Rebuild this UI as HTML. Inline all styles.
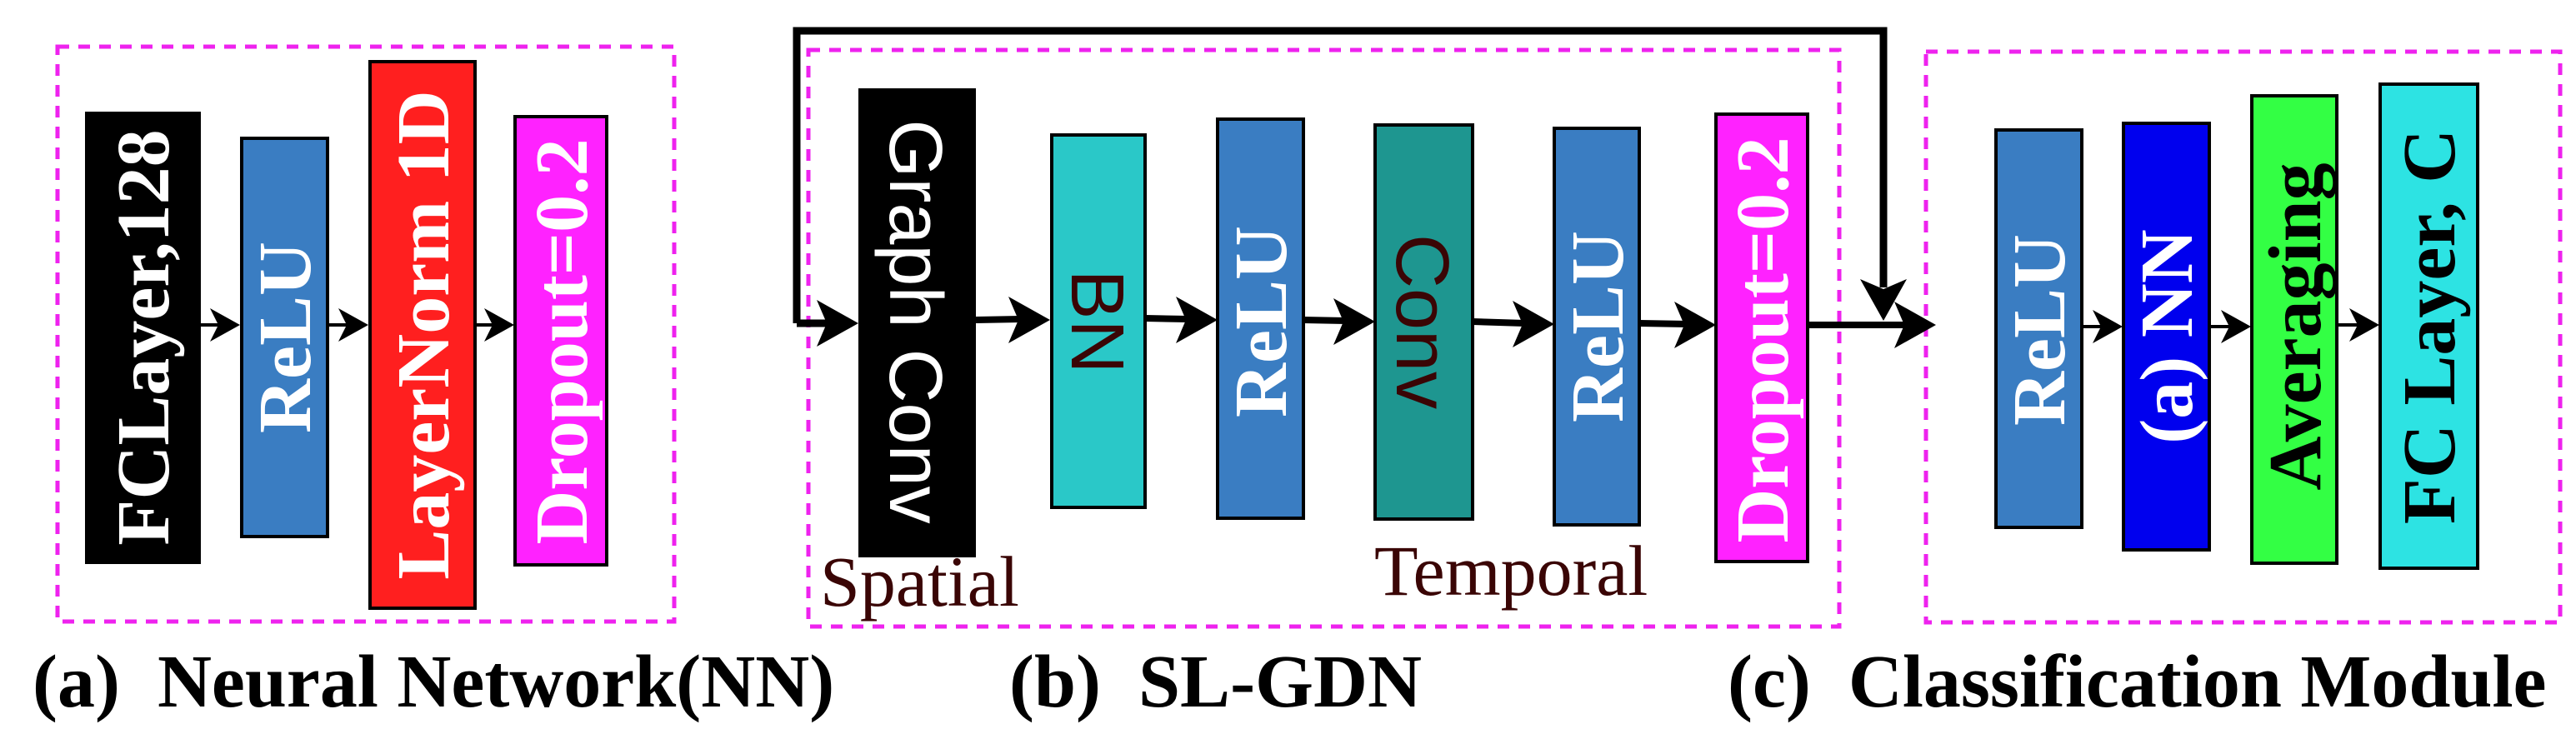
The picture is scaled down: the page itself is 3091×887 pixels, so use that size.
<!DOCTYPE html>
<html><head><meta charset="utf-8"><style>
html,body{margin:0;padding:0;background:#fff;}
svg{display:block;}
.sb{font-family:"Liberation Serif",serif;font-weight:bold;}
.ss{font-family:"Liberation Sans",sans-serif;}
.sr{font-family:"Liberation Serif",serif;}
</style></head><body>
<svg width="3091" height="887" viewBox="0 0 3091 887" xmlns="http://www.w3.org/2000/svg">
<defs>
<g id="hb"><polygon points="0,0 -50,-28 -38,0 -50,28" fill="#000"/></g>
<g id="hs"><polygon points="0,0 -36,-20 -26,0 -36,20" fill="#000"/></g>
</defs>
<!-- dashed boxes -->
<g fill="none" stroke="#ee22ee" stroke-width="5" stroke-dasharray="14,11">
<rect x="69" y="56" width="740" height="690"/>
<rect x="970" y="60" width="1237" height="692"/>
<rect x="2311" y="62" width="761" height="685"/>
</g>

<!-- Panel a -->
<rect x="102" y="134" width="139" height="543" fill="#000"/>
<rect x="290" y="166" width="103" height="478" fill="#3a7dc2" stroke="#000" stroke-width="4"/>
<rect x="444" y="74" width="126" height="656" fill="#ff1f1f" stroke="#000" stroke-width="4"/>
<rect x="618" y="140" width="110" height="538" fill="#ff22ff" stroke="#000" stroke-width="4"/>
<g class="sb" fill="#fff" font-size="90" text-anchor="middle">
<text transform="translate(171,405) rotate(-90)" y="31">FCLayer,128</text>
<text transform="translate(341,405) rotate(-90)" y="31">ReLU</text>
<text transform="translate(507,402) rotate(-90)" y="31">LayerNorm 1D</text>
<text transform="translate(673,410) rotate(-90)" y="31">Dropout=0.2</text>
</g>
<g stroke="#000" stroke-width="4">
<line x1="241" y1="390" x2="270" y2="390"/>
<line x1="393" y1="390" x2="420" y2="390"/>
<line x1="570" y1="390" x2="600" y2="390"/>
</g>
<use href="#hs" transform="translate(288,390)"/>
<use href="#hs" transform="translate(442,390)"/>
<use href="#hs" transform="translate(617,390)"/>

<!-- Panel b -->
<polyline points="956,388 956,37 2260,37 2260,345" fill="none" stroke="#000" stroke-width="9"/>
<line x1="956" y1="388" x2="1000" y2="388" stroke="#000" stroke-width="9"/>
<use href="#hb" transform="translate(1030,388)"/>
<use href="#hb" transform="translate(2260,385) rotate(90)"/>

<rect x="1030" y="106" width="141" height="563" fill="#000"/>
<rect x="1262" y="162" width="112" height="447" fill="#2ac8c8" stroke="#000" stroke-width="4"/>
<rect x="1461" y="143" width="103" height="479" fill="#3a7dc2" stroke="#000" stroke-width="4"/>
<rect x="1650" y="150" width="117" height="473" fill="#1e9690" stroke="#000" stroke-width="4"/>
<rect x="1865" y="154" width="102" height="476" fill="#3a7dc2" stroke="#000" stroke-width="4"/>
<rect x="2059" y="137" width="110" height="537" fill="#ff22ff" stroke="#000" stroke-width="4"/>

<g class="ss" font-size="90" text-anchor="middle">
<text transform="translate(1100,386) rotate(90)" y="32" fill="#fff">Graph Conv</text>
<text transform="translate(1318,386) rotate(90)" y="32" fill="#3a0505">BN</text>
<text transform="translate(1708,386) rotate(90)" y="32" fill="#3a0505">Conv</text>
</g>
<g class="sb" fill="#fff" font-size="90" text-anchor="middle">
<text transform="translate(1512,386) rotate(-90)" y="31">ReLU</text>
<text transform="translate(1916,392) rotate(-90)" y="31">ReLU</text>
<text transform="translate(2114,408) rotate(-90)" y="31">Dropout=0.2</text>
</g>

<g stroke="#000" stroke-width="8">
<line x1="1171" y1="384" x2="1225" y2="383"/>
<line x1="1374" y1="382" x2="1425" y2="383"/>
<line x1="1564" y1="384" x2="1615" y2="385"/>
<line x1="1767" y1="386" x2="1830" y2="388"/>
<line x1="1967" y1="388" x2="2025" y2="389"/>
<line x1="2169" y1="390" x2="2290" y2="390"/>
</g>
<use href="#hb" transform="translate(1260,384)"/>
<use href="#hb" transform="translate(1461,384)"/>
<use href="#hb" transform="translate(1650,386)"/>
<use href="#hb" transform="translate(1865,389)"/>
<use href="#hb" transform="translate(2059,390)"/>
<use href="#hb" transform="translate(2323,390)"/>

<g class="sr" fill="#3a0505" font-size="86">
<text x="984" y="727">Spatial</text>
<text x="1649" y="714">Temporal</text>
</g>

<!-- Panel c -->
<rect x="2395" y="156" width="103" height="477" fill="#3a7dc2" stroke="#000" stroke-width="4"/>
<rect x="2548" y="148" width="103" height="512" fill="#0000ee" stroke="#000" stroke-width="4"/>
<rect x="2702" y="115" width="102" height="561" fill="#33ff44" stroke="#000" stroke-width="4"/>
<rect x="2856" y="101" width="117" height="581" fill="#2de3e3" stroke="#000" stroke-width="4"/>
<g class="sb" font-size="90" text-anchor="middle">
<text transform="translate(2446,396) rotate(-90)" y="31" fill="#fff">ReLU</text>
<text transform="translate(2599,404) rotate(-90)" y="31" fill="#fff">(a) NN</text>
<text transform="translate(2753,392) rotate(-90)" y="31" fill="#000">Averaging</text>
<text transform="translate(2914,392) rotate(-90)" y="31" fill="#000">FC Layer, C</text>
</g>
<g stroke="#000" stroke-width="4">
<line x1="2498" y1="392" x2="2525" y2="392"/>
<line x1="2651" y1="392" x2="2680" y2="392"/>
<line x1="2804" y1="390" x2="2832" y2="390"/>
</g>
<use href="#hs" transform="translate(2547,392)"/>
<use href="#hs" transform="translate(2701,392)"/>
<use href="#hs" transform="translate(2855,390)"/>

<!-- captions -->
<g class="sb" font-size="90" fill="#000" xml:space="preserve">
<text x="39" y="848" xml:space="preserve">(a)  Neural Network(NN)</text>
<text x="1211" y="848" xml:space="preserve">(b)  SL-GDN</text>
<text x="2073" y="848" xml:space="preserve">(c)  Classification Module</text>
</g>
</svg>
</body></html>
